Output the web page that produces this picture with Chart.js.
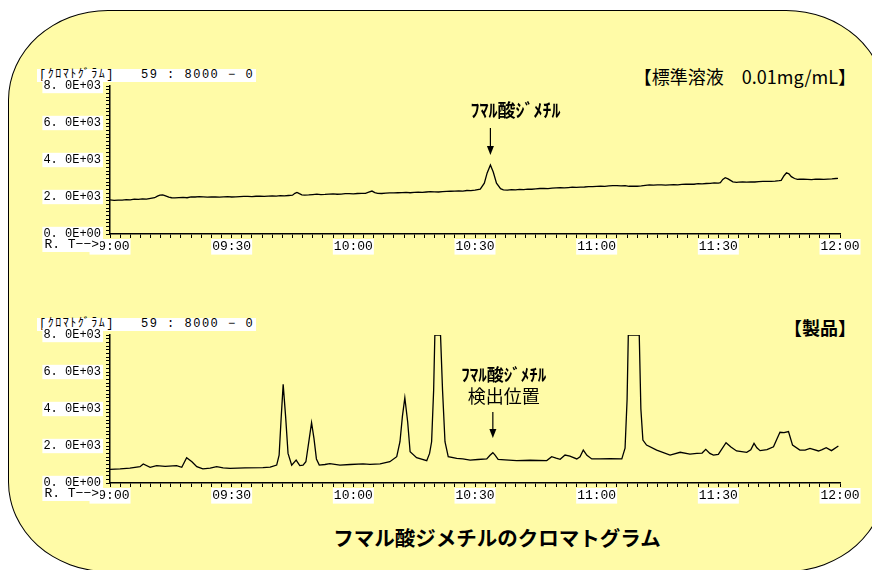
<!DOCTYPE html>
<html lang="ja">
<head>
<meta charset="utf-8">
<script src="https://cdn.jsdelivr.net/npm/chart.js@4.4.1/dist/chart.umd.min.js"></script>
<style>
  html, body { margin: 0; padding: 0; background: #fff; }
  body { width: 872px; height: 570px; position: relative; overflow: hidden; font-family: "Noto Sans CJK JP", sans-serif; }
  #panel { position: absolute; left: 8px; top: 10px; width: 878px; height: 562px; box-sizing: border-box;
           background: #fffba7; border: 1.5px solid #000; border-radius: 100px / 90px; }
  canvas { position: absolute; left: 0; }
  .hdr { position: absolute; left: 37px; background: #fff; color: #000; white-space: pre;
         font: 12px "Liberation Mono", "Noto Sans CJK JP", monospace; letter-spacing: 1.5px; line-height: 13px; padding: 0 2px; }
  .ttl { position: absolute; right: 16px; font-size: 18px; line-height: 22px; color: #000; white-space: pre; }
  #caption { position: absolute; left: 297px; width: 400px; top: 524px; text-align: center;
             font-weight: bold; font-size: 20.5px; line-height: 26px; color: #000; }
</style>
</head>
<body>
<div id="panel"></div>

<div class="hdr" style="top:69px">[ｸﾛﾏﾄｸﾞﾗﾑ]   59 : 8000 − 0</div>
<div class="ttl" style="top:65px">【標準溶液　0.01mg/mL】</div>
<canvas id="stdChart" width="872" height="200" style="top:60px"></canvas>

<div class="hdr" style="top:318px">[ｸﾛﾏﾄｸﾞﾗﾑ]   59 : 8000 − 0</div>
<div class="ttl" style="top:316px;font-weight:bold">【製品】</div>
<canvas id="prodChart" width="872" height="200" style="top:309px"></canvas>

<div id="caption">フマル酸ジメチルのクロマトグラム</div>

<script>
// retention time in minutes after 9:00, detector signal
var stdTime = [0, 1, 2, 3, 4, 5, 6, 7, 8, 9,
    10, 11, 11.7, 12.3, 13, 13.7, 14.5, 15.2, 16, 17,
    18, 19, 20, 21, 22, 23, 24, 25, 26, 27,
    28, 29, 30, 31, 32, 33, 34, 35, 36, 37,
    38, 39, 40, 41, 42, 43, 44, 45, 45.6, 46.1,
    46.7, 47.3, 48, 49, 50, 51, 52, 53, 54, 55,
    56, 57, 58, 59, 60, 61, 62, 63, 63.8, 64.6,
    65.3, 66, 67, 68, 69, 70, 71, 72, 73, 74,
    75, 76, 77, 78, 79, 80, 81, 82, 83, 84,
    85, 86, 87, 88, 89, 90, 91.3, 92.3, 93, 93.8,
    94.5, 95.3, 96.3, 97, 98, 99, 100, 101, 102, 103,
    104, 105, 106, 107, 108, 109, 110, 111, 112, 113,
    114, 115, 116, 117, 118, 119, 120, 121, 122, 123,
    124, 125, 126, 127, 128, 129, 130, 131, 132, 133,
    134, 135, 136, 137, 138, 139, 140, 141, 142, 143,
    144, 145, 146, 147, 148, 149, 150, 150.5, 151.1, 151.7,
    152.4, 153, 153.6, 154.5, 155, 156, 157, 158, 159, 160,
    161, 162, 163, 164, 165, 165.5, 166.2, 166.8, 167.4, 168,
    168.8, 169.5, 170, 171, 172, 173, 174, 175, 176, 177,
    178, 179, 179.5];
var stdSignal = [1840, 1820, 1835, 1830, 1860, 1850, 1880, 1870, 1900, 1890,
    1930, 1960, 2050, 2100, 2110, 2060, 1990, 1960, 1950, 1970,
    1980, 1960, 2010, 2000, 2020, 2010, 1990, 2000, 2000, 1990,
    2010, 2020, 2000, 2010, 2020, 2030, 2030, 2020, 2040, 2050,
    2030, 2050, 2060, 2050, 2070, 2060, 2080, 2100, 2200, 2250,
    2180, 2120, 2100, 2110, 2130, 2150, 2130, 2140, 2160, 2170,
    2150, 2160, 2180, 2180, 2170, 2190, 2200, 2200, 2260, 2320,
    2240, 2200, 2190, 2210, 2220, 2220, 2230, 2240, 2250, 2230,
    2250, 2260, 2250, 2270, 2290, 2280, 2270, 2290, 2300, 2310,
    2320, 2330, 2320, 2350, 2340, 2370, 2420, 2750, 3300, 3730,
    3350, 2750, 2450, 2390, 2370, 2400, 2390, 2410, 2400, 2430,
    2420, 2440, 2460, 2470, 2450, 2480, 2490, 2500, 2490, 2510,
    2530, 2520, 2530, 2540, 2560, 2560, 2570, 2580, 2570, 2600,
    2610, 2620, 2600, 2610, 2580, 2590, 2580, 2600, 2630, 2650,
    2640, 2660, 2650, 2640, 2660, 2670, 2660, 2680, 2690, 2700,
    2690, 2720, 2710, 2730, 2740, 2760, 2750, 2780, 2950, 3040,
    2980, 2900, 2820, 2790, 2800, 2810, 2800, 2820, 2810, 2830,
    2840, 2840, 2850, 2860, 2880, 2900, 3150, 3310, 3250, 3100,
    3000, 2950, 2970, 2960, 2950, 2940, 2970, 2960, 2950, 2970,
    2980, 3000, 3010];

var prodTime = [0, 2.5, 4.9, 7.4, 8.2, 9.9, 11.5, 13.6, 16.4, 17.7, 18.9, 20.2, 21.4, 22.9, 24.7, 26.3, 27.9, 29.6,
    33.3, 37.7, 39.5, 41.1, 41.7, 42.2, 42.7, 43.3, 43.9, 44.8, 45.9, 46.8, 47.6, 48.3, 49.0, 49.7, 50.3, 50.9, 51.6,
    53.0, 54.2, 56.7, 59.2, 62.4, 64.1, 66.6, 69.0, 70.7, 71.5, 72.1, 72.7, 73.4, 74.0, 75.6, 78.1, 78.8, 79.3, 79.8,
    80.1, 81.5, 82.0, 82.6, 83.4, 85.5, 87.0, 88.8, 90.7, 92.9, 93.7, 94.4, 94.9, 95.7, 97.4, 100.3, 103.6, 107.7,
    108.9, 110.0, 111.0, 112.2, 113.4, 115.1, 115.9, 116.7, 117.6, 118.8, 120.8, 123.3, 126.2, 127.0, 127.5, 127.8,
    130.5, 130.9, 131.4, 132.3, 134.8, 138.1, 140.6, 143.0, 144.7, 146.0, 146.9, 147.9, 148.8, 150.0, 151.9, 153.1,
    154.5, 157.0, 158.0, 158.8, 159.5, 160.3, 162.0, 163.6, 164.5, 165.2, 166.2, 167.3, 168.3, 170.1, 171.4, 172.6,
    174.7, 175.6, 176.6, 177.9, 179.6];
var prodSignal = [740, 760, 800, 880, 1030, 850, 940, 900, 940, 850, 1370, 1150, 880, 760, 800, 880, 820, 790,
    820, 830, 860, 970, 1500, 3500, 5330, 3600, 1600, 965, 1240, 940, 960, 1150, 2200, 3260, 2400, 1300, 970,
    1000, 1050, 970, 1000, 1030, 1010, 1030, 1150, 1420, 2230, 3600, 4610, 3300, 1690, 1370, 1210, 1600, 2230, 5000,
    8000, 8000, 5000, 2230, 1420, 1330, 1300, 1240, 1270, 1300, 1500, 1640, 1520, 1280, 1250, 1210, 1230, 1210,
    1420, 1340, 1280, 1510, 1450, 1300, 1420, 1780, 1500, 1300, 1300, 1320, 1300, 1880, 4500, 8000,
    8000, 4000, 2320, 2050, 1780, 1510, 1660, 1560, 1600, 1620, 1820, 1600, 1510, 1550, 2180, 1950,
    1730, 1660, 1800, 2140, 1900, 1750, 1800, 1960, 2400, 2740, 2720, 2780, 2050, 1780, 1780, 1870,
    1730, 1800, 1910, 1750, 2000];

var xLabelMinutes = [0, 30, 60, 90, 120, 150, 180];
var xLabels = ["09:00", "09:30", "10:00", "10:30", "11:00", "11:30", "12:00"];
var yLabelValues = [0, 2000, 4000, 6000, 8000];
var yLabels = ["0. 0E+00", "2. 0E+03", "4. 0E+03", "6. 0E+03", "8. 0E+03"];

function etiqueta(valores, textos, v){
    for (var i = 0; i < valores.length; i++){
        if (Math.abs(valores[i] - v) < 1e-6) return textos[i];
    }
    return "";
}

function juntar(tiempos, senal){
    var puntos = [];
    for (var i = 0; i < tiempos.length; i++){
        puntos.push({x: tiempos[i], y: senal[i]});
    }
    return puntos;
}

var monoFont = {family: '"Liberation Mono", monospace'};

// texto "R.T-->" y la flecha de la anotacion
var overlay = {
    id: "overlay",
    afterDraw: function(chart, args, opts){
        var ctx = chart.ctx, xs = chart.scales.x, area = chart.chartArea;
        ctx.save();
        ctx.font = '13px "Liberation Mono", monospace';
        var rt = "R. T−−>";
        var w = ctx.measureText(rt).width;
        var xr = xs.getPixelForValue(xs.min) - 11;
        var ty = area.bottom + 11;
        ctx.fillStyle = "#fff";
        ctx.fillRect(xr - w - 2, ty - 7, w + 3, 14);
        ctx.fillStyle = "#000";
        ctx.textAlign = "right";
        ctx.textBaseline = "middle";
        ctx.fillText(rt, xr, ty);

        var a = opts.note;
        var px = xs.getPixelForValue(a.time);
        ctx.textAlign = "center";
        a.lines.forEach(function(l){
            ctx.font = l.font;
            ctx.fillText(l.text, px + l.dx, area.top + l.dy);
        });
        ctx.strokeStyle = "#000";
        ctx.lineWidth = 1.2;
        ctx.beginPath();
        ctx.moveTo(px, area.top + a.from);
        ctx.lineTo(px, area.top + a.to - 8);
        ctx.stroke();
        ctx.beginPath();
        ctx.moveTo(px - 3.5, area.top + a.to - 9);
        ctx.lineTo(px + 3.5, area.top + a.to - 9);
        ctx.lineTo(px, area.top + a.to);
        ctx.closePath();
        ctx.fill();
        ctx.restore();
    }
};

function graficar(id, tiempos, senal, nota){
    var ctx = document.getElementById(id).getContext("2d");
    return new Chart(ctx, {
        type: "line",
        data: {
            datasets: [{
                data: juntar(tiempos, senal),
                borderColor: "#000",
                borderWidth: 1.3,
                pointRadius: 0,
                tension: 0,
                fill: false
            }]
        },
        options: {
            responsive: false,
            animation: false,
            events: [],
            layout: { padding: { left: 0, right: 32, top: 26, bottom: 0 } },
            plugins: {
                legend: { display: false },
                tooltip: { enabled: false },
                overlay: { note: nota }
            },
            scales: {
                x: {
                    type: "linear",
                    min: 0, max: 180,
                    afterFit: function(s){ s.height = 26; },
                    border: { display: true, color: "#000", width: 1.5 },
                    grid: { display: true, drawOnChartArea: false, drawTicks: true, tickLength: 4, color: "#000" },
                    ticks: {
                        stepSize: 2.5, maxTicksLimit: 1000, autoSkip: false, maxRotation: 0, minRotation: 0,
                        padding: 1, color: "#000",
                        font: { family: monoFont.family, size: 13 },
                        showLabelBackdrop: function(c){ return !!(c.tick && c.tick.label); },
                        backdropColor: "#fff",
                        backdropPadding: { left: 1, right: 1, top: 0, bottom: 0 },
                        callback: function(v){ return etiqueta(xLabelMinutes, xLabels, v); }
                    }
                },
                y: {
                    min: 0, max: 8000,
                    afterFit: function(s){ s.width = 110; },
                    border: { display: true, color: "#000", width: 1.5 },
                    grid: { display: true, drawOnChartArea: false, drawTicks: true, tickLength: 4, color: "#000" },
                    ticks: {
                        stepSize: 200, maxTicksLimit: 1000, autoSkip: false, padding: 5, color: "#000",
                        font: { family: monoFont.family, size: 12 },
                        showLabelBackdrop: function(c){ return !!(c.tick && c.tick.label); },
                        backdropColor: "#fff",
                        backdropPadding: { left: 1, right: 2, top: 0, bottom: 0 },
                        callback: function(v){ return etiqueta(yLabelValues, yLabels, v); }
                    }
                }
            }
        },
        plugins: [overlay]
    });
}

graficar("stdChart", stdTime, stdSignal, {
    time: 93.8,
    lines: [{ text: "ﾌﾏﾙ酸ｼﾞﾒﾁﾙ", font: 'bold 18px "Noto Sans CJK JP"', dx: 25, dy: 24 }],
    from: 42, to: 69
});

graficar("prodChart", prodTime, prodSignal, {
    time: 94.4,
    lines: [
        { text: "ﾌﾏﾙ酸ｼﾞﾒﾁﾙ", font: 'bold 17px "Noto Sans CJK JP"', dx: 11, dy: 40 },
        { text: "検出位置", font: '18px "Noto Sans CJK JP"', dx: 11, dy: 61 }
    ],
    from: 77, to: 103
});
</script>
</body>
</html>
